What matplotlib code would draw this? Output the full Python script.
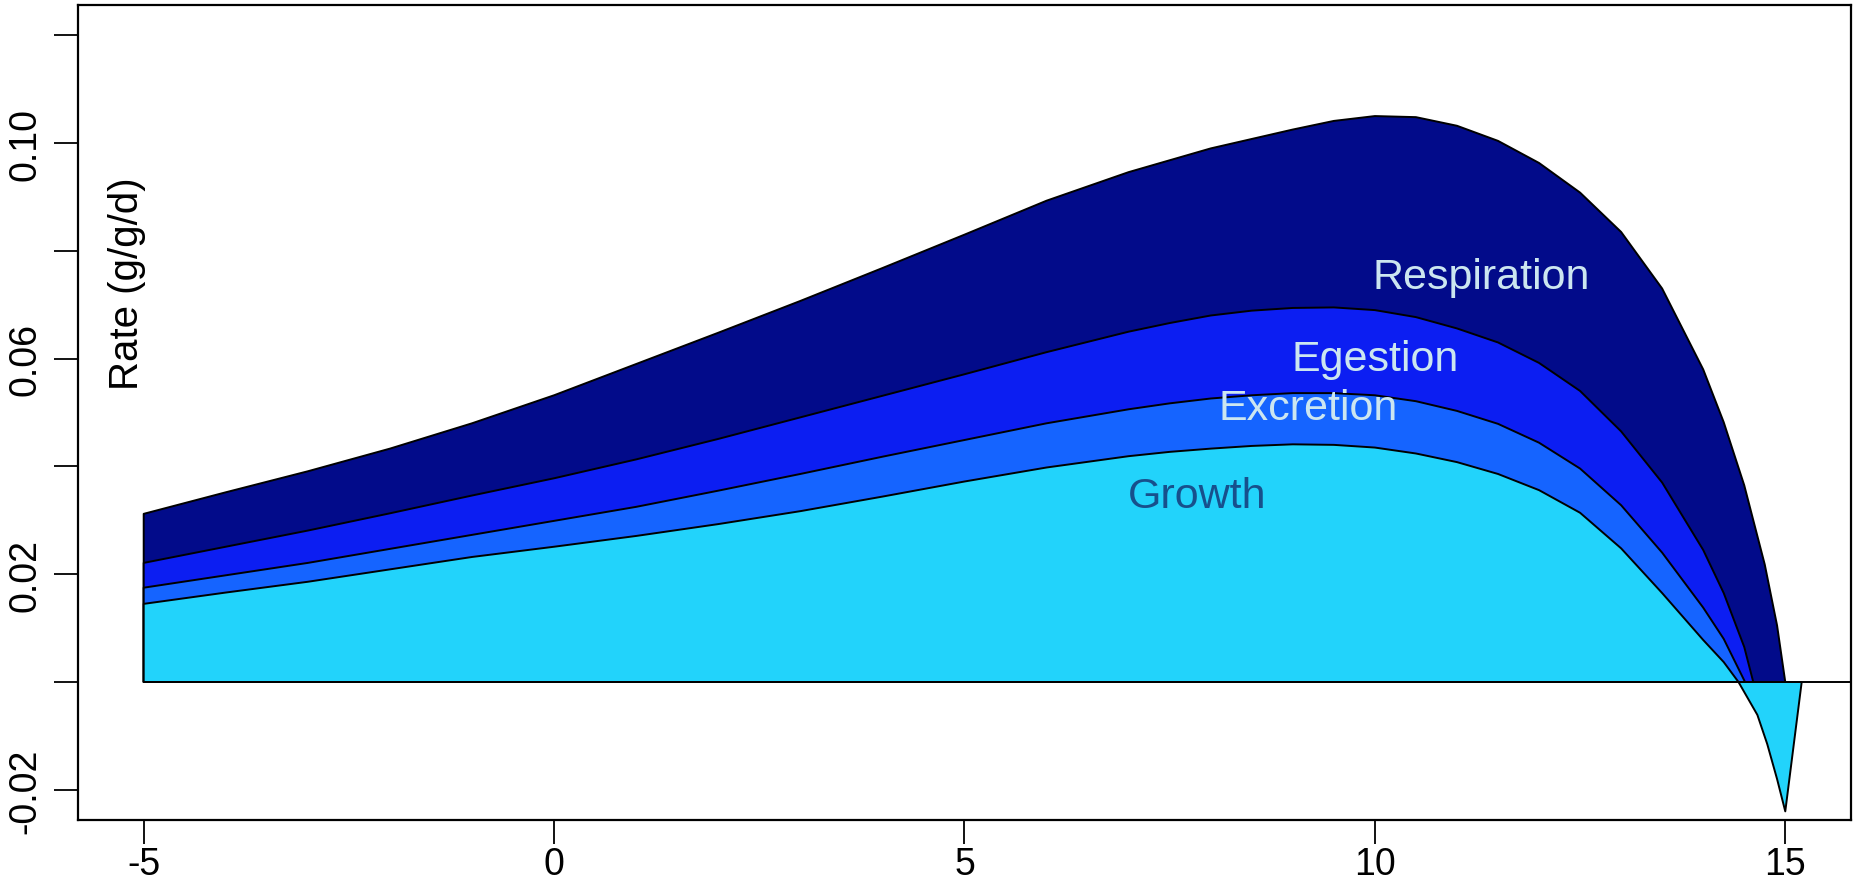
import matplotlib
matplotlib.use("Agg")
import matplotlib.pyplot as plt
from matplotlib import font_manager

plt.rcParams['font.family'] = ['Liberation Sans', 'DejaVu Sans']

# temperature (x) and the stacked rate curves (g/g/d)
temps_total = [-5, -4, -3, -2, -1, 0, 1, 2, 3, 4, 5, 6, 7, 8, 9, 9.5, 10,
               10.5, 11, 11.5, 12, 12.5, 13, 13.5, 14, 14.25, 14.5, 14.75,
               14.9, 15]
total = [0.0312, 0.0352, 0.0391, 0.0433, 0.0480, 0.0532, 0.0590, 0.0648,
         0.0707, 0.0768, 0.0830, 0.0893, 0.0946, 0.0990, 0.1025, 0.1041,
         0.1050, 0.1048, 0.1032, 0.1004, 0.0963, 0.0908, 0.0835, 0.0730,
         0.0580, 0.0482, 0.0365, 0.0218, 0.0105, 0.0]

temps_egest = [-5, -4, -3, -2, -1, 0, 1, 2, 3, 4, 5, 6, 7, 7.5, 8, 8.5, 9,
               9.5, 10, 10.5, 11, 11.5, 12, 12.5, 13, 13.5, 14, 14.25, 14.5,
               14.61]
egest = [0.0221, 0.0251, 0.0281, 0.0313, 0.0346, 0.0378, 0.0413, 0.0451,
         0.0491, 0.0531, 0.0571, 0.0612, 0.0650, 0.0666, 0.0680, 0.0689,
         0.0694, 0.0695, 0.0690, 0.0677, 0.0656, 0.0630, 0.0592, 0.0540,
         0.0465, 0.0370, 0.0245, 0.0165, 0.0065, 0.0]

temps_excr = [-5, -4, -3, -2, -1, 0, 1, 2, 3, 4, 5, 6, 7, 7.5, 8, 8.5, 9,
              9.5, 10, 10.5, 11, 11.5, 12, 12.5, 13, 13.5, 14, 14.25, 14.51]
excr = [0.0175, 0.0198, 0.0221, 0.0247, 0.0273, 0.0299, 0.0325, 0.0355,
        0.0386, 0.0418, 0.0449, 0.0480, 0.0506, 0.0517, 0.0526, 0.0532,
        0.0536, 0.0536, 0.0532, 0.0521, 0.0503, 0.0479, 0.0444, 0.0396,
        0.0328, 0.0240, 0.0138, 0.0080, 0.0]

temps_growth = [-5, -4, -3, -2, -1, 0, 1, 2, 3, 4, 5, 6, 7, 7.5, 8, 8.5, 9,
                9.5, 10, 10.5, 11, 11.5, 12, 12.5, 13, 13.5, 14, 14.25, 14.43,
                14.66, 14.78, 14.9, 15, 15.2]
growth = [0.0145, 0.0166, 0.0186, 0.0209, 0.0232, 0.0251, 0.0271, 0.0293,
          0.0317, 0.0344, 0.0372, 0.0398, 0.0419, 0.0427, 0.0433, 0.0438,
          0.0441, 0.0440, 0.0435, 0.0424, 0.0408, 0.0386, 0.0356, 0.0314,
          0.0248, 0.0165, 0.0078, 0.0037, 0.0, -0.0061, -0.0115, -0.0180,
          -0.0240, 0.0]

layer_names = ["Respiration", "Egestion", "Excretion", "Growth"]
layer_colors = ["#020b8a", "#0c1ef2", "#1564ff", "#22d3fb"]
label_xy = [(11.29, 0.0752), (10.0, 0.0599), (9.19, 0.0508), (7.84, 0.0345)]
label_colors = ["#cce6f0", "#cce6f0", "#cce6f0", "#17508c"]

x_ticks = [-5, 0, 5, 10, 15]
y_ticks = [-0.02, 0.0, 0.02, 0.04, 0.06, 0.08, 0.10, 0.12]
y_ticklabels = ["-0.02", "", "0.02", "", "0.06", "", "0.10", ""]

fig = plt.figure(figsize=(18.58, 8.87), dpi=100)
ax = fig.add_axes([0.042, 0.0744, 0.9542, 0.9188])

curves = [(temps_total, total), (temps_egest, egest),
          (temps_excr, excr), (temps_growth, growth)]
for (xs, ys), col in zip(curves, layer_colors):
    # close each layer down onto the zero line
    px = [xs[0]] + list(xs) + [xs[0]]
    py = [0.0] + list(ys) + [0.0]
    ax.fill(px, py, facecolor=col, edgecolor="black", linewidth=1.4,
            joinstyle="round", zorder=2)

ax.hlines(0, temps_total[0], 16, colors="black", linewidth=1.4, zorder=3)

# condensed font for the in-plot labels if we have one
names = {f.name for f in font_manager.fontManager.ttflist}
if "Liberation Sans Narrow" in names:
    lab_family, lab_size = "Liberation Sans Narrow", 37
else:
    lab_family, lab_size = "Liberation Sans", 31

for name, (lx, ly), lc in zip(layer_names, label_xy, label_colors):
    ax.text(lx, ly, name, color=lc, fontsize=lab_size, family=lab_family,
            ha="center", va="center", zorder=4)

ax.text(-5.2, 0.074, "Rate (g/g/d)", rotation=90, fontsize=29,
        ha="center", va="center", zorder=4)

ax.set_xlim(-5.8, 15.8)
ax.set_ylim(-0.0256, 0.1256)
ax.set_xticks(x_ticks)
ax.set_xticklabels([str(t) for t in x_ticks])
ax.set_yticks(y_ticks)
ax.set_yticklabels(y_ticklabels, rotation=90, va="center")
ax.tick_params(direction="out", length=17, width=1.3, labelsize=27, pad=8)
ax.tick_params(axis="x", pad=2)
for sp in ax.spines.values():
    sp.set_linewidth(1.6)

fig.savefig("out.png", dpi=100)
